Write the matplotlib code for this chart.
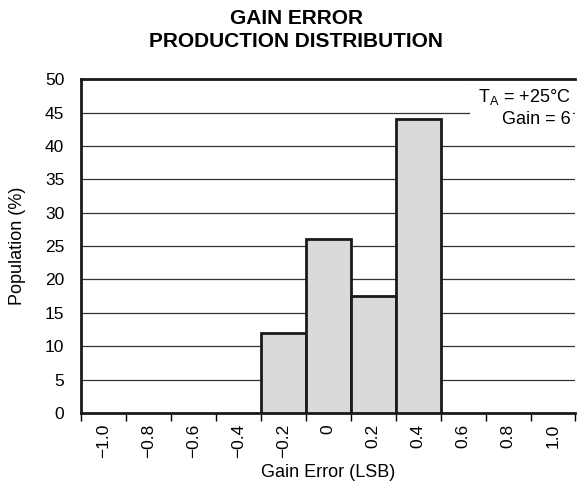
import numpy as np
import matplotlib
matplotlib.use("Agg")
import matplotlib.pyplot as plt
from matplotlib.patches import Rectangle

# DATA
bin_labels = ["\u22121.0", "\u22120.8", "\u22120.6", "\u22120.4", "\u22120.2", "0",
              "0.2", "0.4", "0.6", "0.8", "1.0"]
population = [0, 0, 0, 0, 12, 26, 17.5, 44, 0, 0, 0]
y_ticks = [0, 5, 10, 15, 20, 25, 30, 35, 40, 45, 50]

plt.rcParams["font.family"] = ["Liberation Sans", "DejaVu Sans"]

fig = plt.figure(figsize=(5.77, 4.83), dpi=100)
ax = fig.add_axes([0.1404, 0.145, 0.857, 0.691])

# BARS
x = np.arange(len(bin_labels))
pop = np.array(population, dtype=float)
keep = pop > 0
ax.bar(x[keep], pop[keep], width=1.0, color="#d9dadc", edgecolor="#1a1a1a",
       linewidth=2, zorder=3)

ax.set_xlim(-0.5, len(bin_labels) - 0.5)
ax.set_ylim(0, 50)

# GRID
ax.set_yticks(y_ticks)
ax.yaxis.grid(True, color="#333333", linewidth=0.9)
ax.set_axisbelow(True)
ax.tick_params(axis="y", length=0, pad=12, labelsize=12.5)

# X TICKS: marks at bin edges, labels at bin centres
ax.set_xticks(np.arange(-0.5, len(bin_labels)), labels=[""] * (len(bin_labels) + 1))
ax.set_xticks(x, labels=bin_labels, minor=True, rotation=90)
ax.tick_params(axis="x", which="major", direction="out", length=6, width=1)
ax.tick_params(axis="x", which="minor", length=0, pad=8, labelsize=12.5)

for side in ["left", "bottom", "top"]:
    ax.spines[side].set_linewidth(2)
    ax.spines[side].set_color("#1a1a1a")
ax.spines["right"].set_visible(False)

# LABELS
ax.set_xlabel("Gain Error (LSB)", fontsize=13)
ax.xaxis.set_label_coords(0.5, -0.152)
ax.xaxis.label.set_va("top")
ax.set_ylabel("Population (%)", fontsize=13)
ax.yaxis.set_label_coords(-0.112, 0.5)

fig.text(0.513, 0.962, "GAIN ERROR", ha="center", va="center",
         fontsize=15, fontweight="bold")
fig.text(0.513, 0.915, "PRODUCTION DISTRIBUTION", ha="center", va="center",
         fontsize=15, fontweight="bold")

# CONDITIONS BOX
ax.add_patch(Rectangle((0.787, 0.856), 0.207, 0.144, transform=ax.transAxes,
                       facecolor="white", edgecolor="none", zorder=2))
ax.text(0.99, 0.946, "T$_\\mathregular{A}$ = +25\u00b0C", transform=ax.transAxes,
        ha="right", va="center", fontsize=13, zorder=4)
ax.text(0.99, 0.88, "Gain = 6", transform=ax.transAxes,
        ha="right", va="center", fontsize=13, zorder=4)

plt.savefig("out.png", dpi=100)
